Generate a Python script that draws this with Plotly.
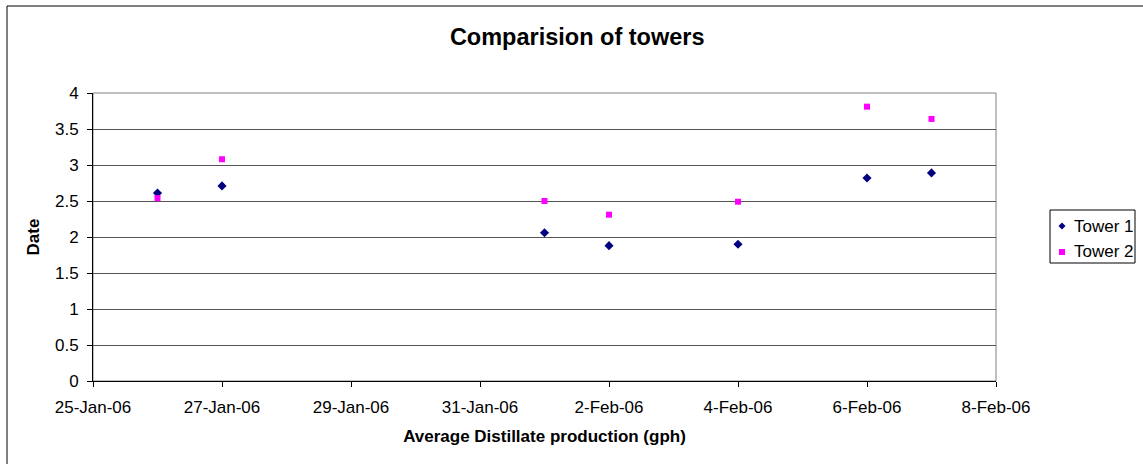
import plotly.graph_objects as go

dates = ["2006-01-26", "2006-01-27", "2006-02-01", "2006-02-02", "2006-02-04", "2006-02-06", "2006-02-07"]
tower1 = [2.61, 2.71, 2.06, 1.88, 1.90, 2.82, 2.89]
tower2 = [2.54, 3.08, 2.50, 2.31, 2.49, 3.81, 3.64]
series_names = ["Tower 1", "Tower 2"]
series_colors = ["#000080", "#FF00FF"]

FONT = "Liberation Sans, Arial, sans-serif"

# plot area in pixels
L, R, T, B = 93, 996, 93, 381
W, H = R - L, B - T


def px(x):
    return (x - L) / W


def py(y):
    return (B - y) / H


fig = go.Figure()
fig.add_trace(go.Scatter(x=dates, y=tower1, mode="markers", name=series_names[0],
                         marker=dict(symbol="diamond", size=7, color=series_colors[0])))
fig.add_trace(go.Scatter(x=dates, y=tower2, mode="markers", name=series_names[1],
                         marker=dict(symbol="square", size=6, color=series_colors[1])))

fig.update_layout(
    width=1143, height=464,
    margin=dict(l=L, r=1143 - R, t=T, b=464 - B, autoexpand=False),
    paper_bgcolor="white", plot_bgcolor="white",
    font=dict(family=FONT, size=17, color="black"),
    title=dict(text="<b>Comparision of towers</b>", x=0.505, xanchor="center",
               y=1 - 37 / 464, yanchor="middle", font=dict(size=23.5, family=FONT)),
    showlegend=False,
)

fig.update_xaxes(
    type="date", range=["2006-01-25", "2006-02-08"],
    tickmode="linear", tick0="2006-01-25", dtick=2 * 86400000,
    tickformat="%-d-%b-%y", ticks="outside", ticklen=5, tickcolor="black",
    ticklabelstandoff=6,
    showline=True, linecolor="black", linewidth=1, mirror=False,
    showgrid=False, zeroline=False,
    title=dict(text="<b>Average Distillate production (gph)</b>", font=dict(size=17), standoff=13),
    tickfont=dict(size=17),
)
fig.update_yaxes(
    range=[0, 4], tickmode="linear", tick0=0, dtick=0.5,
    ticks="outside", ticklen=5, tickcolor="black",
    ticklabelstandoff=5,
    showline=True, linecolor="black", linewidth=1,
    showgrid=True, gridcolor="#555555", gridwidth=1, zeroline=False,
    title=dict(text="<b>Date</b>", font=dict(size=17), standoff=11),
    tickfont=dict(size=17),
)

# plot-area border (top and right in gray)
fig.add_shape(type="rect", xref="paper", yref="paper", x0=0, x1=1, y0=0, y1=1,
              line=dict(color="#808080", width=1), layer="below")
# outer chart border (extends beyond visible window right/bottom)
fig.add_shape(type="rect", xref="paper", yref="paper",
              x0=px(7), x1=px(1200), y0=py(520), y1=py(6),
              line=dict(color="black", width=1))

# legend box
fig.add_shape(type="rect", xref="paper", yref="paper",
              x0=px(1050), x1=px(1135), y0=py(263), y1=py(210),
              line=dict(color="black", width=1), fillcolor="white")
# legend symbols
mx, d = 1062, 3.5
y1 = 226
fig.add_shape(type="path", xref="paper", yref="paper",
              path=(f"M {px(mx)} {py(y1 - d)} L {px(mx + d)} {py(y1)} "
                    f"L {px(mx)} {py(y1 + d)} L {px(mx - d)} {py(y1)} Z"),
              fillcolor=series_colors[0], line=dict(width=0))
y2 = 252
fig.add_shape(type="rect", xref="paper", yref="paper",
              x0=px(mx - 3), x1=px(mx + 3), y0=py(y2 + 3), y1=py(y2 - 3),
              fillcolor=series_colors[1], line=dict(width=0))
for name, yy in zip(series_names, [y1, y2]):
    fig.add_annotation(xref="paper", yref="paper", x=px(1072), y=py(yy),
                       xanchor="left", yanchor="middle", text=name, showarrow=False,
                       font=dict(size=17, family=FONT, color="black"))

fig.write_html("out.html")
